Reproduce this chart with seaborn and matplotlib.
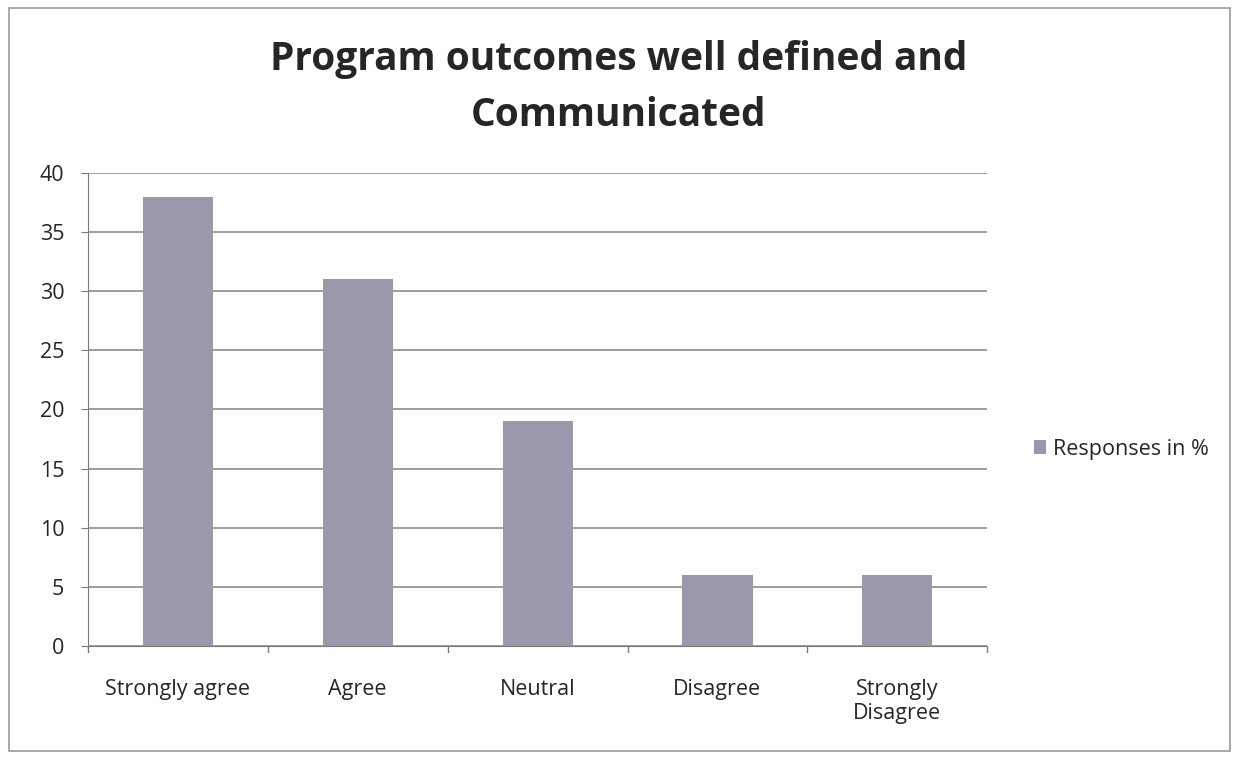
import matplotlib
matplotlib.use("Agg")
import matplotlib.pyplot as plt
import seaborn as sns
import pandas as pd
from matplotlib.patches import Rectangle

# === Data ===
categories = ["Strongly agree", "Agree", "Neutral", "Disagree", "Strongly\nDisagree"]
responses = [38, 31, 19, 6, 6]
series_name = "Responses in %"
yticks = [0, 5, 10, 15, 20, 25, 30, 35, 40]

df = pd.DataFrame({"category": categories, "value": responses})

# === Style ===
sns.set_style("white")
plt.rcParams["font.family"] = ["Open Sans", "DejaVu Sans"]

bar_color = "#9d97ab"
grid_color = "#8c8c8c"

fig = plt.figure(figsize=(12.34, 7.59), dpi=100)
ax = fig.add_axes([0.0713, 0.149, 0.7287, 0.623])

sns.barplot(data=df, x="category", y="value", color=bar_color, width=0.39,
            saturation=1, label=series_name, ax=ax, zorder=3, edgecolor="none")

ax.set_ylim(0, 40)
ax.set_xlim(-0.5, len(categories) - 0.5)
ax.set_yticks(yticks)
ax.set_yticklabels([str(t) for t in yticks], fontsize=15.5)
ax.set_xticklabels(categories, fontsize=15.5, linespacing=1.2)
ax.set_xlabel("")
ax.set_ylabel("")

# horizontal gridlines
for t in yticks:
    ax.axhline(t, color=grid_color, lw=1.2, zorder=1)

# Excel-like axes
for s in ["top", "right"]:
    ax.spines[s].set_visible(False)
ax.spines["left"].set_color("#7a7a7a")
ax.spines["bottom"].set_color("#7a7a7a")
ax.tick_params(axis="y", length=5, color="#7a7a7a", pad=12, left=True)
ax.tick_params(axis="x", length=0, pad=24)
# category boundary ticks on x axis
for b in [i - 0.5 for i in range(len(categories) + 1)]:
    ax.plot([b, b], [0, -0.5], color="#7a7a7a", lw=1, clip_on=False, zorder=4)

ax.set_title("Program outcomes well defined and\nCommunicated",
             fontsize=28, fontweight="bold", pad=34, linespacing=1.55, x=0.59)

leg = ax.legend(loc="center left", bbox_to_anchor=(1.03, 0.416), frameon=False,
                fontsize=15.5, handlelength=0.6, handleheight=0.6, handletextpad=0.3)

# figure border
fig.patches.append(Rectangle((0.007, 0.01), 0.99, 0.98, transform=fig.transFigure,
                             fill=False, edgecolor="#9a9a9a", lw=1.2))

plt.savefig("out.png", dpi=100)
